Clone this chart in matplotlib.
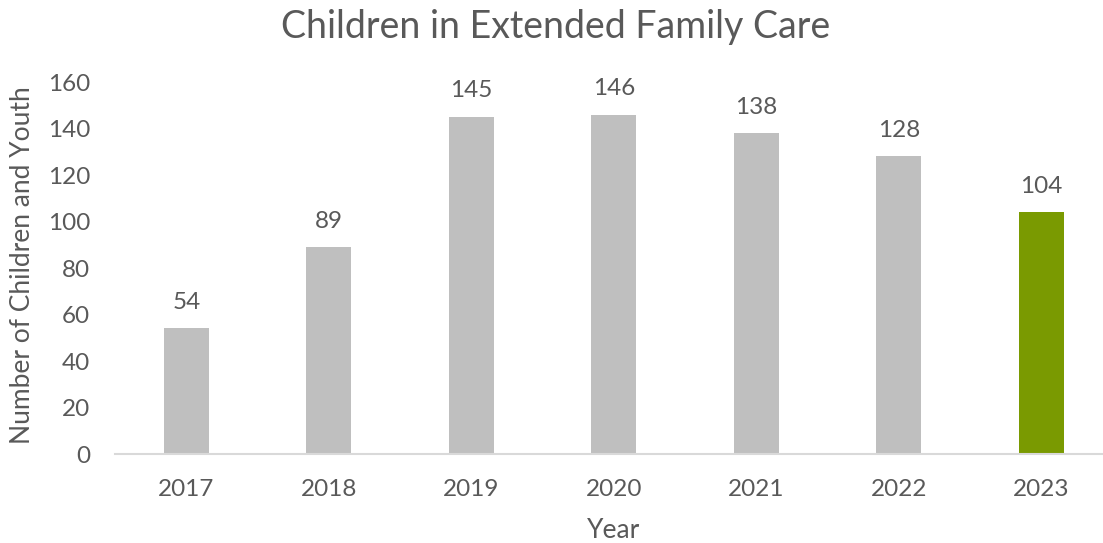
import numpy as np
import matplotlib.pyplot as plt

years = ["2017", "2018", "2019", "2020", "2021", "2022", "2023"]
counts = [54, 89, 145, 146, 138, 128, 104]
highlight = "2023"

plt.rcParams["font.family"] = ["Lato", "DejaVu Sans"]
text_grey = "#595959"
bar_grey = "#BFBFBF"
bar_green = "#7A9A01"

fig = plt.figure(figsize=(11.03, 5.43), dpi=100)
ax = fig.add_axes([0.1043, 0.1639, 0.9043, 0.685])

x = np.arange(len(years))
colors = [bar_green if y == highlight else bar_grey for y in years]
bars = ax.bar(x, counts, width=0.316, color=colors)

for bar, val in zip(bars, counts):
    ax.annotate(str(val), (bar.get_x() + bar.get_width() / 2, val),
                xytext=(0, 26), textcoords="offset pixels",
                ha="center", va="center", fontsize=17.5, color=text_grey)

ax.set_xlim(-0.5, len(years) - 0.5)
ax.set_ylim(0, 160)
ax.set_yticks(range(0, 161, 20))
ax.set_xticks(x)
ax.set_xticklabels(years)
ax.tick_params(axis="both", length=0, labelsize=17.5, labelcolor=text_grey)
ax.tick_params(axis="y", pad=18)
ax.tick_params(axis="x", pad=18)

for side in ["top", "right", "left"]:
    ax.spines[side].set_visible(False)
ax.spines["bottom"].set_color("#D9D9D9")
ax.spines["bottom"].set_linewidth(1.5)

ax.set_ylabel("Number of Children and Youth", fontsize=19, color=text_grey)
ax.yaxis.set_label_coords(-0.093, 0.508)
ax.set_xlabel("Year", fontsize=19, color=text_grey)
ax.xaxis.set_label_coords(0.5, -0.205)
ax.xaxis.label.set_va("center")
ax.yaxis.label.set_va("center")

fig.text(0.504, 0.950, "Children in Extended Family Care", ha="center", va="center",
         fontsize=27, color=text_grey)

fig.savefig("out.png", dpi=100)
